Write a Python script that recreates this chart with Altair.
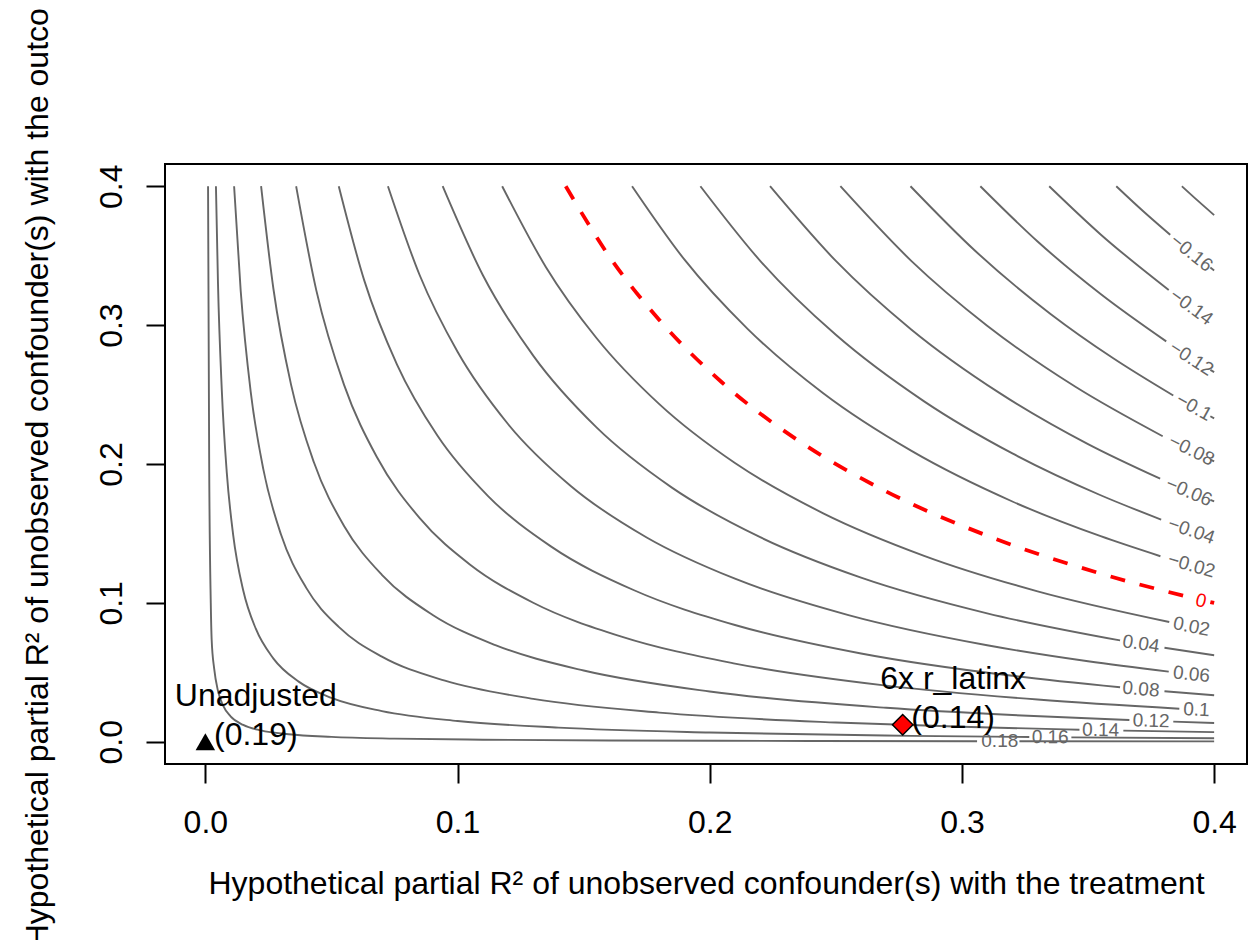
import altair as alt
import pandas as pd

FONT = "Liberation Sans"
GREY = "#666666"

# ---- axis ticks ----
tick_values = [0.0, 0.1, 0.2, 0.3, 0.4]

# ---- contour polylines (r2dz, r2yz), split where labels sit ----
c_m018 = [[(0.3872, 0.4), (0.3935, 0.3896), (0.4, 0.3792)]]
c_m016 = [[(0.3612, 0.4), (0.372, 0.3818), (0.3826, 0.365)],
          [(0.3985, 0.3414), (0.4, 0.3393)]]
c_m014 = [[(0.3346, 0.4), (0.355, 0.3653), (0.382, 0.3253)]]
c_m012 = [[(0.3073, 0.4), (0.33, 0.3602), (0.355, 0.3224), (0.381, 0.2883)],
          [(0.3985, 0.2678), (0.4, 0.2662)]]
c_m010 = [[(0.2796, 0.4), (0.305, 0.3539), (0.335, 0.3082), (0.36, 0.2761), (0.3838, 0.2493)],
          [(0.3985, 0.2344), (0.4, 0.2329)]]
c_m008 = [[(0.2518, 0.4), (0.28, 0.3461), (0.31, 0.2996), (0.345, 0.2556), (0.3796, 0.22)],
          [(0.3985, 0.2032), (0.4, 0.2019)]]
c_m006 = [[(0.2239, 0.4), (0.25, 0.3462), (0.28, 0.2967), (0.315, 0.251), (0.35, 0.2143), (0.3786, 0.1894)],
          [(0.3985, 0.1742), (0.4, 0.1731)]]
c_m004 = [[(0.1963, 0.4), (0.22, 0.3463), (0.25, 0.293), (0.285, 0.2451), (0.32, 0.2076), (0.355, 0.1775), (0.379, 0.16)]]
c_m002 = [[(0.1692, 0.4), (0.19, 0.3471), (0.215, 0.2973), (0.245, 0.2509), (0.28, 0.2094), (0.32, 0.173), (0.355, 0.148), (0.3787, 0.1336)]]
c_000 = [[(0.1429, 0.4), (0.16, 0.3499), (0.18, 0.3037), (0.205, 0.2585), (0.235, 0.217), (0.27, 0.1802), (0.31, 0.1484), (0.355, 0.1211), (0.3905, 0.1039)],
         [(0.3985, 0.1006), (0.4, 0.1)]]
c_p002 = [[(0.1177, 0.4), (0.135, 0.3419), (0.155, 0.2909), (0.18, 0.2431), (0.21, 0.2007), (0.245, 0.1645), (0.285, 0.1339), (0.33, 0.1083), (0.3822, 0.08625)]]
c_p004 = [[(0.0941, 0.4), (0.11, 0.3361), (0.13, 0.278), (0.155, 0.2265), (0.185, 0.183), (0.22, 0.1473), (0.26, 0.1182), (0.31, 0.0925), (0.3627, 0.073)],
          [(0.3803, 0.0677), (0.4, 0.0623)]]
c_p006 = [[(0.0724, 0.4), (0.085, 0.3359), (0.1, 0.2808), (0.12, 0.2288), (0.145, 0.184), (0.175, 0.1471), (0.21, 0.1174), (0.255, 0.0912), (0.31, 0.0695), (0.35, 0.05795), (0.382, 0.05048)]]
c_p008 = [[(0.0529, 0.4), (0.063, 0.3322), (0.076, 0.2716), (0.092, 0.2205), (0.112, 0.1771), (0.137, 0.1407), (0.17, 0.1091), (0.21, 0.0841), (0.26, 0.0636), (0.32, 0.0475), (0.3627, 0.03926)],
          [(0.3803, 0.0364), (0.4, 0.03351)]]
c_p010 = [[(0.036, 0.4), (0.044, 0.325), (0.055, 0.257), (0.068, 0.205), (0.085, 0.161), (0.105, 0.1275), (0.13, 0.1001), (0.165, 0.0757), (0.21, 0.0563), (0.27, 0.0404), (0.33, 0.0304), (0.3862, 0.02377)]]
c_p012 = [[(0.0221, 0.4), (0.027, 0.326), (0.034, 0.257), (0.043, 0.2014), (0.055, 0.1554), (0.07, 0.1202), (0.09, 0.0915), (0.115, 0.0696), (0.15, 0.0513), (0.2, 0.0362), (0.27, 0.02446), (0.32, 0.01923), (0.3664, 0.01565)],
          [(0.3838, 0.01452), (0.4, 0.01357)]]
c_p014 = [[(0.0114, 0.4), (0.014, 0.3251), (0.018, 0.2518), (0.023, 0.1961), (0.03, 0.1492), (0.04, 0.1108), (0.053, 0.0825), (0.07, 0.0613), (0.095, 0.044), (0.13, 0.0309), (0.18, 0.021), (0.25, 0.01385), (0.3, 0.01077), (0.3466, 0.0087)],
          [(0.364, 0.008066), (0.4, 0.006924)]]
c_p016 = [[(0.0042, 0.4), (0.005, 0.3307), (0.0065, 0.254), (0.0085, 0.1938), (0.011, 0.1494), (0.015, 0.1091), (0.02, 0.0814), (0.027, 0.0599), (0.037, 0.0433), (0.05, 0.0316), (0.07, 0.0221), (0.1, 0.01496), (0.14, 0.01021), (0.2, 0.00665), (0.28, 0.00427), (0.3267, 0.003425)],
          [(0.3434, 0.003178), (0.4, 0.002493)]]
c_p018 = [[(0.00107, 0.4), (0.00152, 0.2), (0.00215, 0.1), (0.0025, 0.0737), (0.0035, 0.0526), (0.005, 0.0367), (0.007, 0.0262), (0.01, 0.01828), (0.015, 0.01212), (0.022, 0.00821), (0.033, 0.00541), (0.05, 0.00351), (0.075, 0.00228), (0.11, 0.00149), (0.16, 0.00097), (0.24, 0.000585), (0.306, 0.000419)],
          [(0.3228, 0.000387), (0.4, 0.000277)]]

grey_contours = [c_m018, c_m016, c_m014, c_m012, c_m010, c_m008, c_m006, c_m004, c_m002,
                 c_p002, c_p004, c_p006, c_p008, c_p010, c_p012, c_p014, c_p016, c_p018]
red_contours = [c_000]

# ---- contour labels ----
label_x = [0.391, 0.391, 0.391, 0.392, 0.391, 0.390, 0.391, 0.391, 0.3948, 0.391, 0.371, 0.391, 0.371, 0.393, 0.375, 0.355, 0.335, 0.315]
label_y = [0.352, 0.313, 0.276, 0.241, 0.210, 0.180, 0.152, 0.127, 0.1015, 0.083, 0.0705, 0.0486, 0.0379, 0.0231, 0.0151, 0.0084, 0.0033, 0.0004]
label_text = ["\u22120.16", "\u22120.14", "\u22120.12", "\u22120.1", "\u22120.08", "\u22120.06", "\u22120.04", "\u22120.02", "0",
              "0.02", "0.04", "0.06", "0.08", "0.1", "0.12", "0.14", "0.16", "0.18"]
label_angle = [39, 36, 33, 29, 26, 23, 19, 16, 13, 11, 9, 6, 5, 3, 2, 1, 0.5, 0]
label_is_red = [False] * 8 + [True] + [False] * 9

# ---- benchmark points ----
pt_name = ["Unadjusted", "6x r_latinx"]
pt_x = [0.0, 0.2765]
pt_y = [0.0, 0.0123]
pt_est = ["(0.19)", "(0.14)"]
bump = 0.02  # sensemakr label offset (lim / 20)


def contour_frame(contours):
    rows = []
    for ci, segs in enumerate(contours):
        for si, seg in enumerate(segs):
            for i, (x, y) in enumerate(seg):
                rows.append({"x": x, "y": y, "seg": f"{ci}_{si}", "i": i})
    return pd.DataFrame(rows)


grey_df = contour_frame(grey_contours)
red_df = contour_frame(red_contours)
lab_df = pd.DataFrame({"x": label_x, "y": label_y, "t": label_text, "a": label_angle,
                       "c": ["#ff0000" if r else GREY for r in label_is_red]})
pt_df = pd.DataFrame({"x": pt_x, "y": pt_y, "name": pt_name})
ptlab_df = pd.DataFrame({"x": [v + bump for v in pt_x], "y": [v + bump for v in pt_y],
                         "name": pt_name, "est": pt_est})

xscale = alt.Scale(domain=[-0.016, 0.41303], nice=False, zero=False)
yscale = alt.Scale(domain=[-0.016, 0.416], nice=False, zero=False)
common_axis = dict(values=tick_values, format=".1f", tickSize=19, tickWidth=2, tickColor="black",
                   domain=False, grid=False, labelFont=FONT, labelFontSize=32, labelColor="black",
                   labelFlush=False, labelOverlap=False, titleFont=FONT, titleFontSize=32,
                   titleFontWeight="normal", titleColor="black")
x_axis = alt.Axis(**common_axis, labelBaseline="alphabetic", labelPadding=49,
                  titleBaseline="alphabetic", titleY=129)
y_axis = alt.Axis(**common_axis, labelAngle=270, labelAlign="center", labelBaseline="alphabetic",
                  labelPadding=25, titleAngle=270, titleAlign="center", titleBaseline="alphabetic",
                  titleX=-118, titleY=291)
X = alt.X("x:Q", scale=xscale, axis=x_axis,
          title="Hypothetical partial R\u00b2 of unobserved confounder(s) with the treatment")
Y = alt.Y("y:Q", scale=yscale, axis=y_axis,
          title="Hypothetical partial R\u00b2 of unobserved confounder(s) with the outcome")

grey_lines = alt.Chart(grey_df).mark_line(color=GREY, strokeWidth=1.9, interpolate="monotone").encode(
    x=X, y=Y, detail="seg:N", order="i:Q")
red_line = alt.Chart(red_df).mark_line(color="#ff0000", strokeWidth=3.8, strokeDash=[15, 15],
                                       interpolate="monotone").encode(
    x=X, y=Y, detail="seg:N", order="i:Q")
labels = alt.Chart(lab_df).mark_text(font=FONT, fontSize=19, align="center", baseline="middle").encode(
    x=X, y=Y, text="t:N", angle=alt.Angle("a:Q", scale=None), color=alt.Color("c:N", scale=None))
tri = alt.Chart(pt_df.iloc[[0]]).mark_point(shape="triangle-up", filled=True, size=380, color="black",
                                            opacity=1).encode(x=X, y=Y)
dia = alt.Chart(pt_df.iloc[[1]]).mark_point(shape="diamond", filled=True, size=420, color="#ff0000",
                                            stroke="black", strokeWidth=1.5, opacity=1).encode(x=X, y=Y)
name_text = alt.Chart(ptlab_df).mark_text(font=FONT, fontSize=32, align="center", baseline="alphabetic",
                                          dy=-8, color="black").encode(x=X, y=Y, text="name:N")
est_text = alt.Chart(ptlab_df).mark_text(font=FONT, fontSize=32, align="center", baseline="alphabetic",
                                         dy=31, color="black").encode(x=X, y=Y, text="est:N")

chart = alt.layer(grey_lines, red_line, labels, tri, dia, name_text, est_text).properties(
    width=1082, height=600,
    padding={"left": 157, "top": 156, "right": 1, "bottom": 176},
    autosize=alt.AutoSizeParams(type="none"),
    background="white",
).configure_view(stroke="black", strokeWidth=2)

chart.save("out.html", embed_options={"renderer": "svg", "actions": False})
